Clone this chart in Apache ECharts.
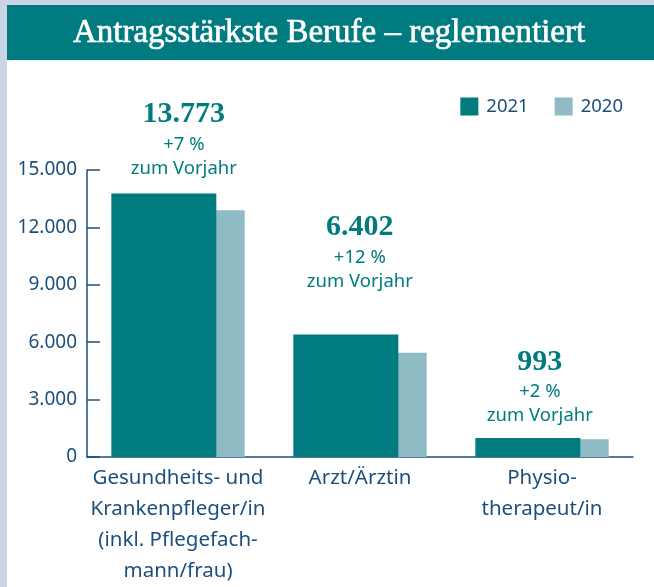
<!DOCTYPE html>
<html>
<head>
<meta charset="utf-8">
<script src="https://cdn.jsdelivr.net/npm/echarts@6/dist/echarts.min.js"></script>
<style>
  html, body { margin: 0; padding: 0; background: #fff; }
  #chart { width: 654px; height: 587px; }
</style>
</head>
<body>
<div id="chart"></div>
<script>
var categories = [
  'Gesundheits- und\nKrankenpfleger/in\n(inkl. Pflegefach-\nmann/frau)',
  'Arzt/Ärztin',
  'Physio-\ntherapeut/in'
];
var values2021 = [13773, 6402, 993];
var values2020 = [12900, 5450, 930];
var changePct = [7, 12, 2];
var yTicks = [0, 3000, 6000, 9000, 12000, 15000];

// label placement per bar (x shift, gap above bar)
var labelOffsetX = [20, 14, 12];
var labelGap = [13, 41, 10];

var teal = '#007b80';
var lightTeal = '#8fbcc4';
var navy = '#1d4f7c';
var sans = '"Noto Sans", sans-serif';
var serif = '"Liberation Serif", "DejaVu Serif", serif';

function fmt(v) {
  return String(v).replace(/\B(?=(\d{3})+(?!\d))/g, '.');
}

var myChart = echarts.init(document.getElementById('chart'));

var data2021 = values2021.map(function (v, i) {
  return {
    value: v,
    label: {
      show: true,
      position: 'top',
      distance: labelGap[i],
      offset: [labelOffsetX[i], 0],
      formatter: '{n|' + fmt(v) + '}\n{p|+' + changePct[i] + ' %}\n{p|zum Vorjahr}',
      rich: {
        n: { fontFamily: serif, fontWeight: 'bold', fontSize: 30, color: teal, lineHeight: 36, align: 'center' },
        p: { fontFamily: sans, fontSize: 18.5, color: teal, lineHeight: 24, align: 'center' }
      }
    }
  };
});

option = {
  animation: false,
  backgroundColor: '#fff',
  graphic: [
    { type: 'rect', left: 0, top: 0, shape: { width: 7, height: 587 }, style: { fill: '#cbd3e6' } },
    { type: 'rect', left: 0, top: 0, shape: { width: 654, height: 5 }, style: { fill: '#cbd3e6' } },
    { type: 'rect', left: 7, top: 5, shape: { width: 647, height: 55 }, style: { fill: teal } },
    {
      type: 'text', x: 329, y: 33,
      style: {
        text: 'Antragsstärkste Berufe – reglementiert',
        fill: '#fff', font: '33px ' + serif,
        stroke: '#fff', lineWidth: 0.7,
        textAlign: 'center', textVerticalAlign: 'middle'
      }
    }
  ],
  legend: {
    data: ['2021', '2020'],
    right: 26,
    top: 92,
    itemWidth: 18,
    itemHeight: 18,
    itemGap: 26,
    icon: 'rect',
    textStyle: { fontFamily: sans, fontSize: 18.5, color: navy, padding: [0, 0, 0, 3] }
  },
  grid: { left: 87, right: 21, top: 170, bottom: 130 },
  xAxis: {
    type: 'category',
    data: categories,
    axisLine: { lineStyle: { color: navy, width: 1.5 } },
    axisTick: { inside: true, length: 7, lineStyle: { color: navy, width: 1.5 } },
    axisLabel: { fontFamily: sans, fontSize: 20.5, color: navy, lineHeight: 31, margin: 6, interval: 0 }
  },
  yAxis: {
    type: 'value',
    min: yTicks[0],
    max: yTicks[yTicks.length - 1],
    interval: yTicks[1] - yTicks[0],
    splitLine: { show: false },
    axisLine: { show: true, lineStyle: { color: navy, width: 1.5 } },
    axisTick: { show: true, inside: true, length: 13, lineStyle: { color: navy, width: 1.5 } },
    axisLabel: { fontFamily: sans, fontSize: 19, color: navy, margin: 10, formatter: fmt }
  },
  series: [
    {
      name: '2021',
      type: 'bar',
      z: 3,
      barWidth: 105,
      barGap: '-73%',
      itemStyle: { color: teal },
      data: data2021
    },
    {
      name: '2020',
      type: 'bar',
      z: 2,
      barWidth: 105,
      itemStyle: { color: lightTeal },
      data: values2020
    }
  ]
};

myChart.setOption(option);
</script>
</body>
</html>
